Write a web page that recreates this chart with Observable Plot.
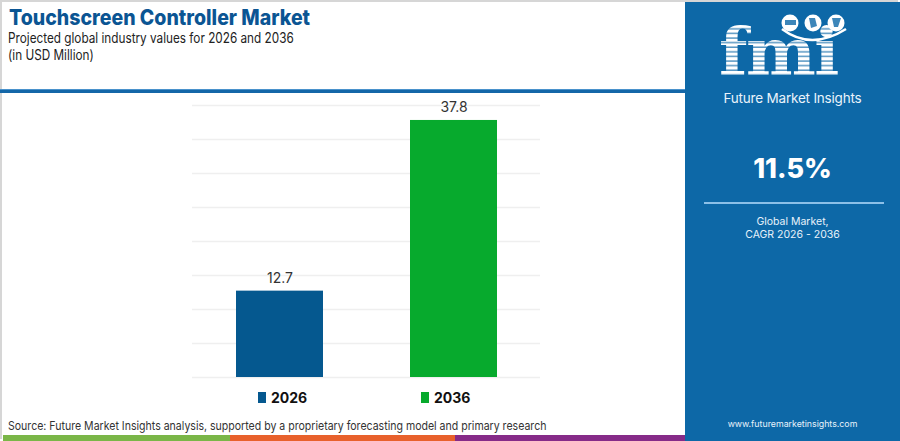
<!DOCTYPE html>
<html>
<head>
<meta charset="utf-8">
<script src="https://cdn.jsdelivr.net/npm/d3@7"></script>
<script src="https://cdn.jsdelivr.net/npm/@observablehq/plot@0.6"></script>
<style>
  html, body { margin:0; padding:0; }
  body { width:900px; height:441px; position:relative; overflow:hidden; background:#fff; font-family:"Inter","Open Sans",sans-serif; }
  .frame { position:absolute; left:0; top:0; width:898px; height:439px; border-left:2px solid #d6d6d6; border-top:2px solid #d6d6d6; box-sizing:border-box; }
  #title { position:absolute; left:9px; top:7px; font-size:21px; line-height:22px; font-weight:800; color:#0b5593; white-space:nowrap; transform:scaleX(0.93); transform-origin:left top; }
  #subtitle { position:absolute; left:8px; top:30px; font-size:14px; color:#222; line-height:16.5px; white-space:nowrap; transform:scaleX(0.84); transform-origin:left top; }
  #rule { position:absolute; left:0; top:89px; width:685px; height:4px; background:#1467a8; border-top:1px solid #4a92cc; box-sizing:border-box; }
  #chart { position:absolute; left:0; top:95px; }
  #legend { position:absolute; top:389px; left:0; width:685px; font-size:14px; font-weight:700; color:#111; }
  .li { position:absolute; display:flex; align-items:center; white-space:nowrap; }
  .sw { width:8px; height:11px; margin-right:5px; }
  #source { position:absolute; left:8px; top:418px; font-size:12px; color:#333; white-space:nowrap; transform:scaleX(0.88); transform-origin:left top; }
  #strip { position:absolute; left:3px; top:435px; width:682px; height:6px; display:flex; }
  #panel { position:absolute; left:685px; top:2px; width:215px; height:439px; background:#0d68a7; color:#fff; text-align:center; }
  #logo { position:absolute; left:0; top:0; width:215px; height:90px; overflow:visible; }
  #fmiName { position:absolute; left:0; width:215px; top:89px; font-size:13.5px; line-height:15px; color:#eaf3fb; letter-spacing:-0.2px; }
  #cagr { position:absolute; left:0; width:215px; top:152px; font-size:27px; line-height:30px; font-weight:800; }
  #cline { position:absolute; left:19px; top:200px; width:180px; height:2px; background:#8cc0e8; }
  #glob { position:absolute; left:0; width:215px; top:213px; font-size:10.5px; line-height:13px; color:#e8f2fb; }
  #url { position:absolute; left:0; width:215px; top:416px; font-size:8.8px; color:#e8f2fb; }
</style>
</head>
<body>
<div class="frame"></div>
<div id="title">Touchscreen Controller Market</div>
<div id="subtitle">Projected global industry values for 2026 and 2036<br>(in USD Million)</div>
<div id="rule"></div>
<div id="chart"></div>
<div id="legend"></div>
<div id="source">Source: Future Market Insights analysis, supported by a proprietary forecasting model and primary research</div>
<div id="strip"></div>
<div id="panel">
  <svg id="logo" width="215" height="90">
    <defs>
      <pattern id="stripes" patternUnits="userSpaceOnUse" width="8" height="4.6">
        <rect width="8" height="3.2" fill="#fff"/>
        <rect y="3.2" width="8" height="1.4" fill="#fff" opacity="0.3"/>
      </pattern>
    </defs>
    <text x="34" y="73" font-family="DejaVu Serif, serif" font-weight="700" font-size="66" letter-spacing="-1.5" fill="url(#stripes)">fmi</text>
    <circle cx="105" cy="21" r="8.5" fill="#fff"/>
    <circle cx="128" cy="21" r="8.5" fill="#fff"/>
    <circle cx="151" cy="21" r="8.5" fill="#fff"/>
    <path d="M97 27 Q126 49 161 27" stroke="#fff" stroke-width="2.5" fill="none"/>
    <path d="M100 18 h11 v5 h-11z M124 16 l6 0 l2 8 l-6 2z M147 16 h9 l-3 9 h-4z" fill="#0d68a7" opacity="0.8"/>
  </svg>
  <div id="fmiName">Future Market Insights</div>
  <div id="cagr">11.5%</div>
  <div id="cline"></div>
  <div id="glob">Global Market,<br>CAGR 2026 - 2036</div>
  <div id="url">www.futuremarketinsights.com</div>
</div>
<script>
const years = ["2026", "2036"];
const values = [12.7, 37.8];
const colors = ["#05588f", "#07aa2d"];
const yTicks = [0, 5, 10, 15, 20, 25, 30, 35, 40];
const stripColors = ["#7ab648", "#e8612c", "#862b88"];
const cagr = "11.5%";

const data = years.map((y, i) => ({year: y, value: values[i]}));

const chart = Plot.plot({
  width: 685,
  height: 287,
  marginLeft: 192,
  marginRight: 145,
  marginTop: 10,
  marginBottom: 5,
  style: {fontFamily: "Inter, 'Open Sans', sans-serif", background: "transparent"},
  x: {domain: years, paddingInner: 0.5, paddingOuter: 0.25, axis: null},
  y: {domain: [0, 40], axis: null},
  color: {domain: years, range: colors},
  marks: [
    Plot.ruleY(yTicks, {stroke: "#efefef", strokeWidth: 1.5}),
    Plot.barY(data, {x: "year", y: "value", fill: "year"}),
    Plot.text(data, {x: "year", y: "value", text: d => d.value.toFixed(1), dy: -13, fontSize: 14, fill: "#333"})
  ]
});
document.getElementById("chart").appendChild(chart);

const legendPos = [258, 421];
const legend = document.getElementById("legend");
years.forEach((y, i) => {
  const el = document.createElement("div");
  el.className = "li";
  el.style.left = legendPos[i] + "px";
  el.innerHTML = `<span class="sw" style="background:${colors[i]}"></span><span>${y}</span>`;
  legend.appendChild(el);
});

const strip = document.getElementById("strip");
const widths = [227, 225, 230];
stripColors.forEach((c, i) => {
  const s = document.createElement("div");
  s.style.width = widths[i] + "px";
  s.style.height = "6px";
  s.style.background = c;
  strip.appendChild(s);
});
document.getElementById("cagr").textContent = cagr;
</script>
</body>
</html>
